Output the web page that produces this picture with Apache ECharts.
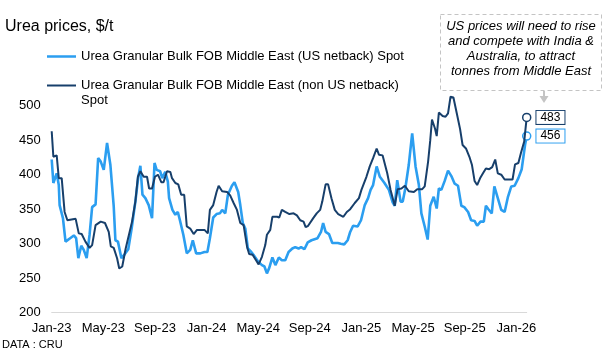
<!DOCTYPE html>
<html lang="en">
<head>
<meta charset="UTF-8">
<title>Urea prices</title>
<script src="https://cdn.jsdelivr.net/npm/echarts@6/dist/echarts.min.js"></script>
<style>
  html, body { margin: 0; padding: 0; background: #fff; }
  #chart { width: 609px; height: 353px; }
</style>
</head>
<body>
<div id="chart"></div>
<script>
// Urea Granular Bulk FOB Middle East (US netback) Spot, $/t
const usDates = [
  '2023-01-01','2023-01-05','2023-01-13','2023-01-18','2023-01-20','2023-01-28','2023-02-03','2023-02-13','2023-02-21','2023-02-26',
  '2023-03-03','2023-03-10','2023-03-16','2023-03-23','2023-03-30','2023-04-05','2023-04-13','2023-04-19','2023-04-25','2023-05-02',
  '2023-05-10','2023-05-18','2023-05-26','2023-05-30','2023-06-05','2023-06-13','2023-06-21','2023-06-29','2023-07-07','2023-07-16',
  '2023-07-23','2023-07-28','2023-08-02','2023-08-09','2023-08-17','2023-08-25','2023-08-31','2023-09-05','2023-09-13','2023-09-18',
  '2023-09-25','2023-10-01','2023-10-04','2023-10-12','2023-10-19','2023-10-25','2023-10-30','2023-11-07','2023-11-15','2023-11-23',
  '2023-11-29','2023-12-07','2023-12-17','2023-12-27','2024-01-03','2024-01-09','2024-01-17','2024-01-25','2024-02-02','2024-02-07',
  '2024-02-14','2024-02-20','2024-02-29','2024-03-06','2024-03-15','2024-03-20','2024-03-26','2024-04-01','2024-04-07','2024-04-15',
  '2024-04-20','2024-05-01','2024-05-10','2024-05-16','2024-05-22','2024-05-27','2024-06-04','2024-06-11','2024-06-19','2024-06-26',
  '2024-07-04','2024-07-12','2024-07-21','2024-07-28','2024-08-05','2024-08-11','2024-08-19','2024-08-27','2024-09-05','2024-09-19',
  '2024-09-27','2024-10-02','2024-10-08','2024-10-16','2024-10-24','2024-11-06','2024-11-13','2024-11-21','2024-11-29','2024-12-05',
  '2024-12-12','2024-12-23','2024-12-31','2025-01-09','2025-01-17','2025-01-23','2025-01-29','2025-02-06','2025-02-13','2025-02-23',
  '2025-03-05','2025-03-14','2025-03-19','2025-03-25','2025-04-02','2025-04-07','2025-04-13','2025-04-21','2025-04-29','2025-05-07',
  '2025-05-15','2025-05-21','2025-05-29','2025-06-05','2025-06-11','2025-06-19','2025-06-26','2025-07-01','2025-07-07','2025-07-15',
  '2025-07-23','2025-07-31','2025-08-08','2025-08-16','2025-08-24','2025-08-31','2025-09-09','2025-09-16','2025-09-24','2025-09-30',
  '2025-10-08','2025-10-16','2025-10-21','2025-10-27','2025-11-04','2025-11-10','2025-11-18','2025-11-26','2025-12-04','2025-12-12',
  '2025-12-20','2025-12-28','2026-01-06','2026-01-14','2026-01-22','2026-01-26'
];
const usPrices = [
  422,388,402,385,356,337,303,308,312,308,
  279,297,291,279,313,353,357,424,419,407,
  446,414,354,305,303,279,285,292,322,361,
  397,413,371,366,356,337,417,407,405,395,
  404,390,366,349,342,346,334,313,286,291,
  305,286,286,288,288,308,338,343,344,349,
  344,371,384,389,375,356,330,322,293,288,
  284,274,269,267,257,264,280,269,280,276,
  276,288,293,295,293,295,292,302,305,308,
  317,330,317,314,301,301,300,299,305,317,
  326,325,334,356,366,378,385,412,397,388,
  378,360,355,392,361,361,380,414,460,412,
  385,344,325,306,355,368,351,380,378,391,
  406,398,387,384,355,353,346,334,333,326,
  332,332,355,350,344,383,366,349,346,368,
  383,384,395,408,443,456
];

// Urea Granular Bulk FOB Middle East (non US netback) Spot, $/t
const nonUsDates = [
  '2023-01-01','2023-01-05','2023-01-13','2023-01-18','2023-01-25','2023-02-01','2023-02-07','2023-02-25','2023-03-04','2023-03-11',
  '2023-03-20','2023-03-30','2023-04-05','2023-04-13','2023-04-25','2023-05-05','2023-05-14','2023-05-19','2023-05-26','2023-06-03',
  '2023-06-08','2023-06-15','2023-06-23','2023-07-08','2023-07-16','2023-07-22','2023-07-28','2023-08-05','2023-08-13','2023-08-18',
  '2023-08-25','2023-09-01','2023-09-08','2023-09-16','2023-09-21','2023-09-29','2023-10-07','2023-10-11','2023-10-19','2023-10-26',
  '2023-11-02','2023-11-09','2023-11-15','2023-11-23','2023-12-01','2023-12-09','2023-12-27','2024-01-04','2024-01-09','2024-01-17',
  '2024-01-25','2024-01-30','2024-02-07','2024-02-18','2024-02-25','2024-03-04','2024-03-12','2024-03-20','2024-03-28','2024-04-05',
  '2024-04-10','2024-04-18','2024-04-26','2024-05-02','2024-05-10','2024-05-18','2024-05-22','2024-05-30','2024-06-04','2024-06-15',
  '2024-06-20','2024-06-26','2024-07-04','2024-07-14','2024-07-24','2024-08-01','2024-08-09','2024-08-17','2024-08-22','2024-08-28',
  '2024-09-09','2024-09-17','2024-09-25','2024-09-30','2024-10-08','2024-10-14','2024-10-22','2024-10-30','2024-11-07','2024-11-19',
  '2024-11-27','2024-12-05','2024-12-16','2024-12-26','2025-01-01','2025-01-13','2025-01-21','2025-01-29','2025-02-06','2025-02-11',
  '2025-02-19','2025-03-01','2025-03-09','2025-03-19','2025-03-26','2025-04-04','2025-04-12','2025-04-21','2025-05-03','2025-05-11',
  '2025-05-23','2025-05-29','2025-06-06','2025-06-11','2025-06-15','2025-06-22','2025-06-26','2025-07-01','2025-07-10','2025-07-17',
  '2025-07-23','2025-07-29','2025-08-05','2025-08-13','2025-08-21','2025-08-27','2025-09-04','2025-09-12','2025-09-18','2025-09-24',
  '2025-09-30','2025-10-08','2025-10-14','2025-10-21','2025-10-29','2025-11-05','2025-11-12','2025-11-18','2025-11-26','2025-12-04',
  '2025-12-13','2025-12-23','2025-12-29','2026-01-06','2026-01-12','2026-01-20','2026-01-26'
];
const nonUsPrices = [
  463,426,428,395,395,346,334,336,315,314,
  303,294,298,327,332,330,317,296,294,279,
  264,267,293,332,361,397,405,397,397,380,
  380,397,400,389,389,405,404,395,388,386,
  371,371,325,322,314,320,320,315,349,356,
  375,384,376,375,370,359,349,330,327,296,
  285,284,276,270,281,298,313,320,339,339,
  338,349,346,343,344,341,334,332,324,326,
  337,344,349,361,386,386,366,349,343,339,
  346,350,359,366,378,397,412,424,438,429,
  428,402,378,355,379,380,384,376,375,379,
  379,383,419,450,480,467,456,490,485,484,
  489,513,512,489,466,443,438,426,414,391,
  385,396,402,409,408,411,422,402,400,393,
  393,393,415,417,431,448,483
];

const xTickLabels = ['Jan-23', 'May-23', 'Sep-23', 'Jan-24', 'May-24', 'Sep-24', 'Jan-25', 'May-25', 'Sep-25', 'Jan-26'];
const yTicks = [200, 250, 300, 350, 400, 450, 500];

const US_COLOR = '#2B9EF0';
const NONUS_COLOR = '#173F6B';
const FONT = '"Liberation Sans", Arial, sans-serif';

// date string -> months since Jan 2023 (fractional)
function toMonths(s) {
  const [y, m, d] = s.split('-').map(Number);
  const dim = new Date(y, m, 0).getDate();
  return (y - 2023) * 12 + (m - 1) + (d - 1) / dim;
}

function buildSeries(dates, prices, color) {
  return dates.map((d, i) => {
    const item = { value: [toMonths(d), prices[i]] };
    if (i === dates.length - 1) {
      // hollow end marker + boxed value label
      item.symbol = 'circle';
      item.symbolSize = 8;
      item.itemStyle = { color: '#fff', borderColor: color, borderWidth: 1.5 };
      item.label = {
        show: true,
        position: 'right',
        distance: 5,
        formatter: String(prices[i]),
        color: '#000',
        fontFamily: FONT,
        fontSize: 12,
        backgroundColor: '#fff',
        borderColor: color,
        borderWidth: 1,
        padding: [1, 4, 0, 4]
      };
    }
    return item;
  });
}

const lastMonth = toMonths(nonUsDates[nonUsDates.length - 1]);

const myChart = echarts.init(document.getElementById('chart'), null, { renderer: 'canvas' });

const option = {
  backgroundColor: '#fff',
  animation: false,
  textStyle: { fontFamily: FONT },
  title: [
    {
      text: 'Urea prices, $/t',
      left: 5,
      top: 19,
      padding: 0,
      textStyle: { fontSize: 16, fontWeight: 'normal', color: '#000', fontFamily: FONT }
    },
    {
      text: 'DATA : CRU',
      left: 2,
      top: 339,
      padding: 0,
      textStyle: { fontSize: 11, fontWeight: 'normal', color: '#000', fontFamily: FONT }
    }
  ],
  legend: [
    {
      data: ['Urea Granular Bulk FOB Middle East (US netback) Spot'],
      left: 47,
      top: 50,
      padding: 0,
      icon: 'rect',
      itemWidth: 29,
      itemHeight: 2.5,
      textStyle: { fontSize: 13, color: '#000', fontFamily: FONT }
    },
    {
      data: ['Urea Granular Bulk FOB Middle East (non US netback)'],
      left: 47,
      top: 79,
      padding: 0,
      icon: 'rect',
      itemWidth: 29,
      itemHeight: 2,
      textStyle: { fontSize: 13, color: '#000', fontFamily: FONT }
    }
  ],
  grid: { left: 51.7, right: 609 - 526.7, top: 105.7, bottom: 353 - 312.7, containLabel: false },
  xAxis: {
    type: 'value',
    min: 0,
    max: lastMonth,
    interval: 4,
    axisLine: { show: true, lineStyle: { color: '#d9d9d9', width: 1 } },
    axisTick: { show: false },
    splitLine: { show: false },
    axisLabel: {
      showMaxLabel: false,
      margin: 9,
      fontSize: 13,
      color: '#000',
      fontFamily: FONT,
      formatter: v => (v % 4 === 0 ? (xTickLabels[v / 4] || '') : '')
    }
  },
  yAxis: {
    type: 'value',
    min: yTicks[0],
    max: yTicks[yTicks.length - 1],
    interval: 50,
    axisLine: { show: false },
    axisTick: { show: false },
    splitLine: { show: false },
    axisLabel: { margin: 11, fontSize: 13, color: '#000', fontFamily: FONT }
  },
  series: [
    {
      name: 'Urea Granular Bulk FOB Middle East (US netback) Spot',
      type: 'line',
      data: buildSeries(usDates, usPrices, US_COLOR),
      symbol: 'none',
      clip: false,
      lineStyle: { color: US_COLOR, width: 2.6 },
      itemStyle: { color: US_COLOR },
      z: 2
    },
    {
      name: 'Urea Granular Bulk FOB Middle East (non US netback)',
      type: 'line',
      data: buildSeries(nonUsDates, nonUsPrices, NONUS_COLOR),
      symbol: 'none',
      clip: false,
      lineStyle: { color: NONUS_COLOR, width: 2 },
      itemStyle: { color: NONUS_COLOR },
      z: 3
    }
  ],
  graphic: [
    // second line of the legend text
    {
      type: 'text',
      left: 81,
      top: 94,
      style: { text: 'Spot', fontSize: 13, fontFamily: FONT, fill: '#000' }
    },
    // annotation box
    {
      type: 'rect',
      shape: { x: 440.5, y: 14.5, width: 161, height: 76 },
      style: { fill: '#fff', stroke: '#c4c4c4', lineWidth: 1, lineDash: [4, 3] },
      z: 10
    },
    {
      type: 'text',
      x: 521,
      y: 19,
      style: {
        text: 'US prices will need to rise\nand compete with India &\nAustralia, to attract\ntonnes from Middle East',
        align: 'center',
        verticalAlign: 'top',
        fontSize: 13,
        fontStyle: 'italic',
        fontFamily: FONT,
        lineHeight: 15,
        fill: '#000'
      },
      z: 11
    },
    {
      type: 'line',
      shape: { x1: 544, y1: 91, x2: 544, y2: 97 },
      style: { stroke: '#c4c4c4', lineWidth: 2 },
      z: 10
    },
    {
      type: 'polygon',
      shape: { points: [[539.5, 96], [548.5, 96], [544, 103]] },
      style: { fill: '#c4c4c4' },
      z: 10
    }
  ]
};

myChart.setOption(option);
</script>
</body>
</html>
